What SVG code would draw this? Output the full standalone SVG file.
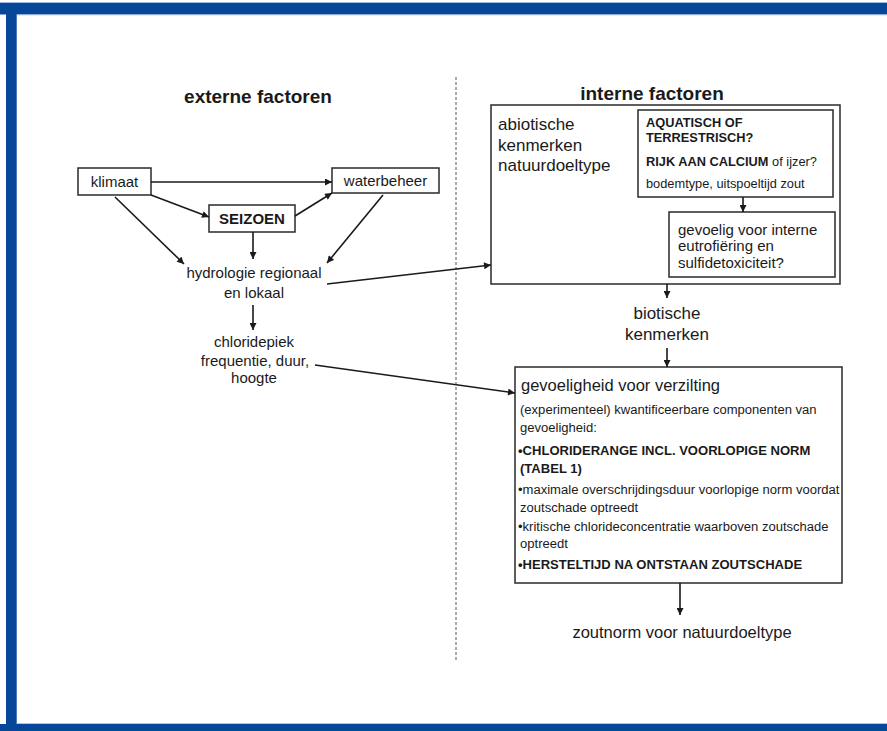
<svg xmlns="http://www.w3.org/2000/svg" width="887" height="731" viewBox="0 0 887 731">
<defs>
<style>
text{font-family:"Liberation Sans",Arial,sans-serif;fill:#1a1a1a}
.h{font-size:19px;font-weight:bold}
.m{font-size:15px}
.l{font-size:17px}
.s{font-size:12.8px}
.t{font-size:13.05px}
.b{font-weight:bold}
.box{fill:#fff;stroke:#2a2a2a;stroke-width:1.5}
.c{fill:none;stroke:#1a1a1a;stroke-width:1.6;marker-end:url(#ah)}
</style>
<marker id="ah" viewBox="0 0 10 10" refX="10" refY="5" markerWidth="8" markerHeight="7" markerUnits="userSpaceOnUse" orient="auto">
<path d="M0,0 L10,5 L0,10 z" fill="#1a1a1a"/>
</marker>
</defs>
<rect x="0" y="0" width="887" height="731" fill="#fff"/>
<g id="frame">
<rect x="0" y="3" width="887" height="11.5" fill="#06479a"/>
<rect x="6" y="3" width="10.7" height="728" fill="#06479a"/>
<rect x="0" y="724" width="887" height="7" fill="#06479a"/>
<line x1="0" y1="2.5" x2="887" y2="2.5" stroke="#9db8dc" stroke-width="1"/>
<line x1="16.7" y1="14.8" x2="887" y2="14.8" stroke="#9db8dc" stroke-width="0.8"/>
<line x1="16.7" y1="723.5" x2="887" y2="723.5" stroke="#9db8dc" stroke-width="0.8"/>
</g>
<line id="divider" x1="456" y1="77" x2="456" y2="662" stroke="#555" stroke-width="1" stroke-dasharray="3 2"/>
<text class="h" x="258" y="103" text-anchor="middle">externe factoren</text>
<text class="h" x="652" y="100" text-anchor="middle">interne factoren</text>
<g id="klimaat"><rect class="box" x="78" y="168" width="73" height="27"/><text class="m" x="114.5" y="187" text-anchor="middle">klimaat</text></g>
<g id="waterbeheer"><rect class="box" x="332" y="168" width="107" height="25"/><text class="m" x="385.5" y="186" text-anchor="middle">waterbeheer</text></g>
<g id="seizoen"><rect class="box" x="209" y="205" width="86" height="27"/><text class="m b" x="252" y="224" text-anchor="middle">SEIZOEN</text></g>
<g id="hydrologie"><text class="m" x="254" y="278" text-anchor="middle">hydrologie regionaal</text><text class="m" x="254" y="298" text-anchor="middle">en lokaal</text></g>
<g id="chloridepiek"><text class="m" x="254" y="347" text-anchor="middle">chloridepiek</text><text class="m" x="255" y="366" text-anchor="middle">frequentie, duur,</text><text class="m" x="254" y="383" text-anchor="middle">hoogte</text></g>
<g id="abiotisch">
<rect class="box" x="491" y="105" width="349" height="179"/>
<text class="l" x="498" y="130">abiotische</text>
<text class="l" x="498" y="151">kenmerken</text>
<text class="l" x="498" y="171">natuurdoeltype</text>
</g>
<g id="aquatisch">
<rect class="box" x="638" y="110" width="195" height="87"/>
<text class="s b" x="646" y="127">AQUATISCH OF</text>
<text class="s b" x="646" y="142">TERRESTRISCH?</text>
<text class="s" x="646" y="166"><tspan class="b">RIJK AAN CALCIUM</tspan> of ijzer?</text>
<text class="s" x="646" y="188">bodemtype, uitspoeltijd zout</text>
</g>
<g id="gevoelig">
<rect class="box" x="669" y="212" width="166" height="65"/>
<text class="m" x="678" y="235">gevoelig voor interne</text>
<text class="m" x="678" y="251">eutrofiëring en</text>
<text class="m" x="678" y="268">sulfidetoxiciteit?</text>
</g>
<g id="biotisch"><text class="l" x="667" y="319" text-anchor="middle">biotische</text><text class="l" x="667" y="340" text-anchor="middle">kenmerken</text></g>
<g id="verzilting">
<rect class="box" x="515" y="367" width="327" height="216"/>
<text x="521" y="391" style="font-size:16.5px">gevoeligheid voor verzilting</text>
<text class="t" x="520" y="414">(experimenteel) kwantificeerbare componenten van</text>
<text class="t" x="520" y="432">gevoeligheid:</text>
<text class="t b" x="518" y="455">•CHLORIDERANGE INCL. VOORLOPIGE NORM</text>
<text class="t b" x="520" y="473">(TABEL 1)</text>
<text class="t" x="518" y="494">•maximale overschrijdingsduur voorlopige norm voordat</text>
<text class="t" x="520" y="512">zoutschade optreedt</text>
<text class="t" x="518" y="531">•kritische chlorideconcentratie waarboven zoutschade</text>
<text class="t" x="520" y="548">optreedt</text>
<text class="t b" x="518" y="569">•HERSTELTIJD NA ONTSTAAN ZOUTSCHADE</text>
</g>
<g id="zoutnorm"><text x="682" y="638" text-anchor="middle" style="font-size:16.5px">zoutnorm voor natuurdoeltype</text></g>
<g id="connectors">
<line class="c" x1="151" y1="182" x2="332" y2="182"/>
<line class="c" x1="151" y1="195" x2="209" y2="217"/>
<line class="c" x1="295" y1="216" x2="332" y2="193"/>
<line class="c" x1="115" y1="197" x2="184" y2="264"/>
<line class="c" x1="253" y1="232" x2="253" y2="259"/>
<line class="c" x1="383" y1="195" x2="327" y2="263"/>
<line class="c" x1="253" y1="305" x2="253" y2="330"/>
<line class="c" x1="327" y1="284" x2="491" y2="265"/>
<line class="c" x1="315" y1="365" x2="515" y2="393"/>
<line class="c" x1="743" y1="197" x2="743" y2="212"/>
<line class="c" x1="667" y1="284" x2="667" y2="298"/>
<line class="c" x1="667" y1="348" x2="667" y2="367"/>
<line class="c" x1="680" y1="583" x2="680" y2="615"/>
</g>
</svg>
